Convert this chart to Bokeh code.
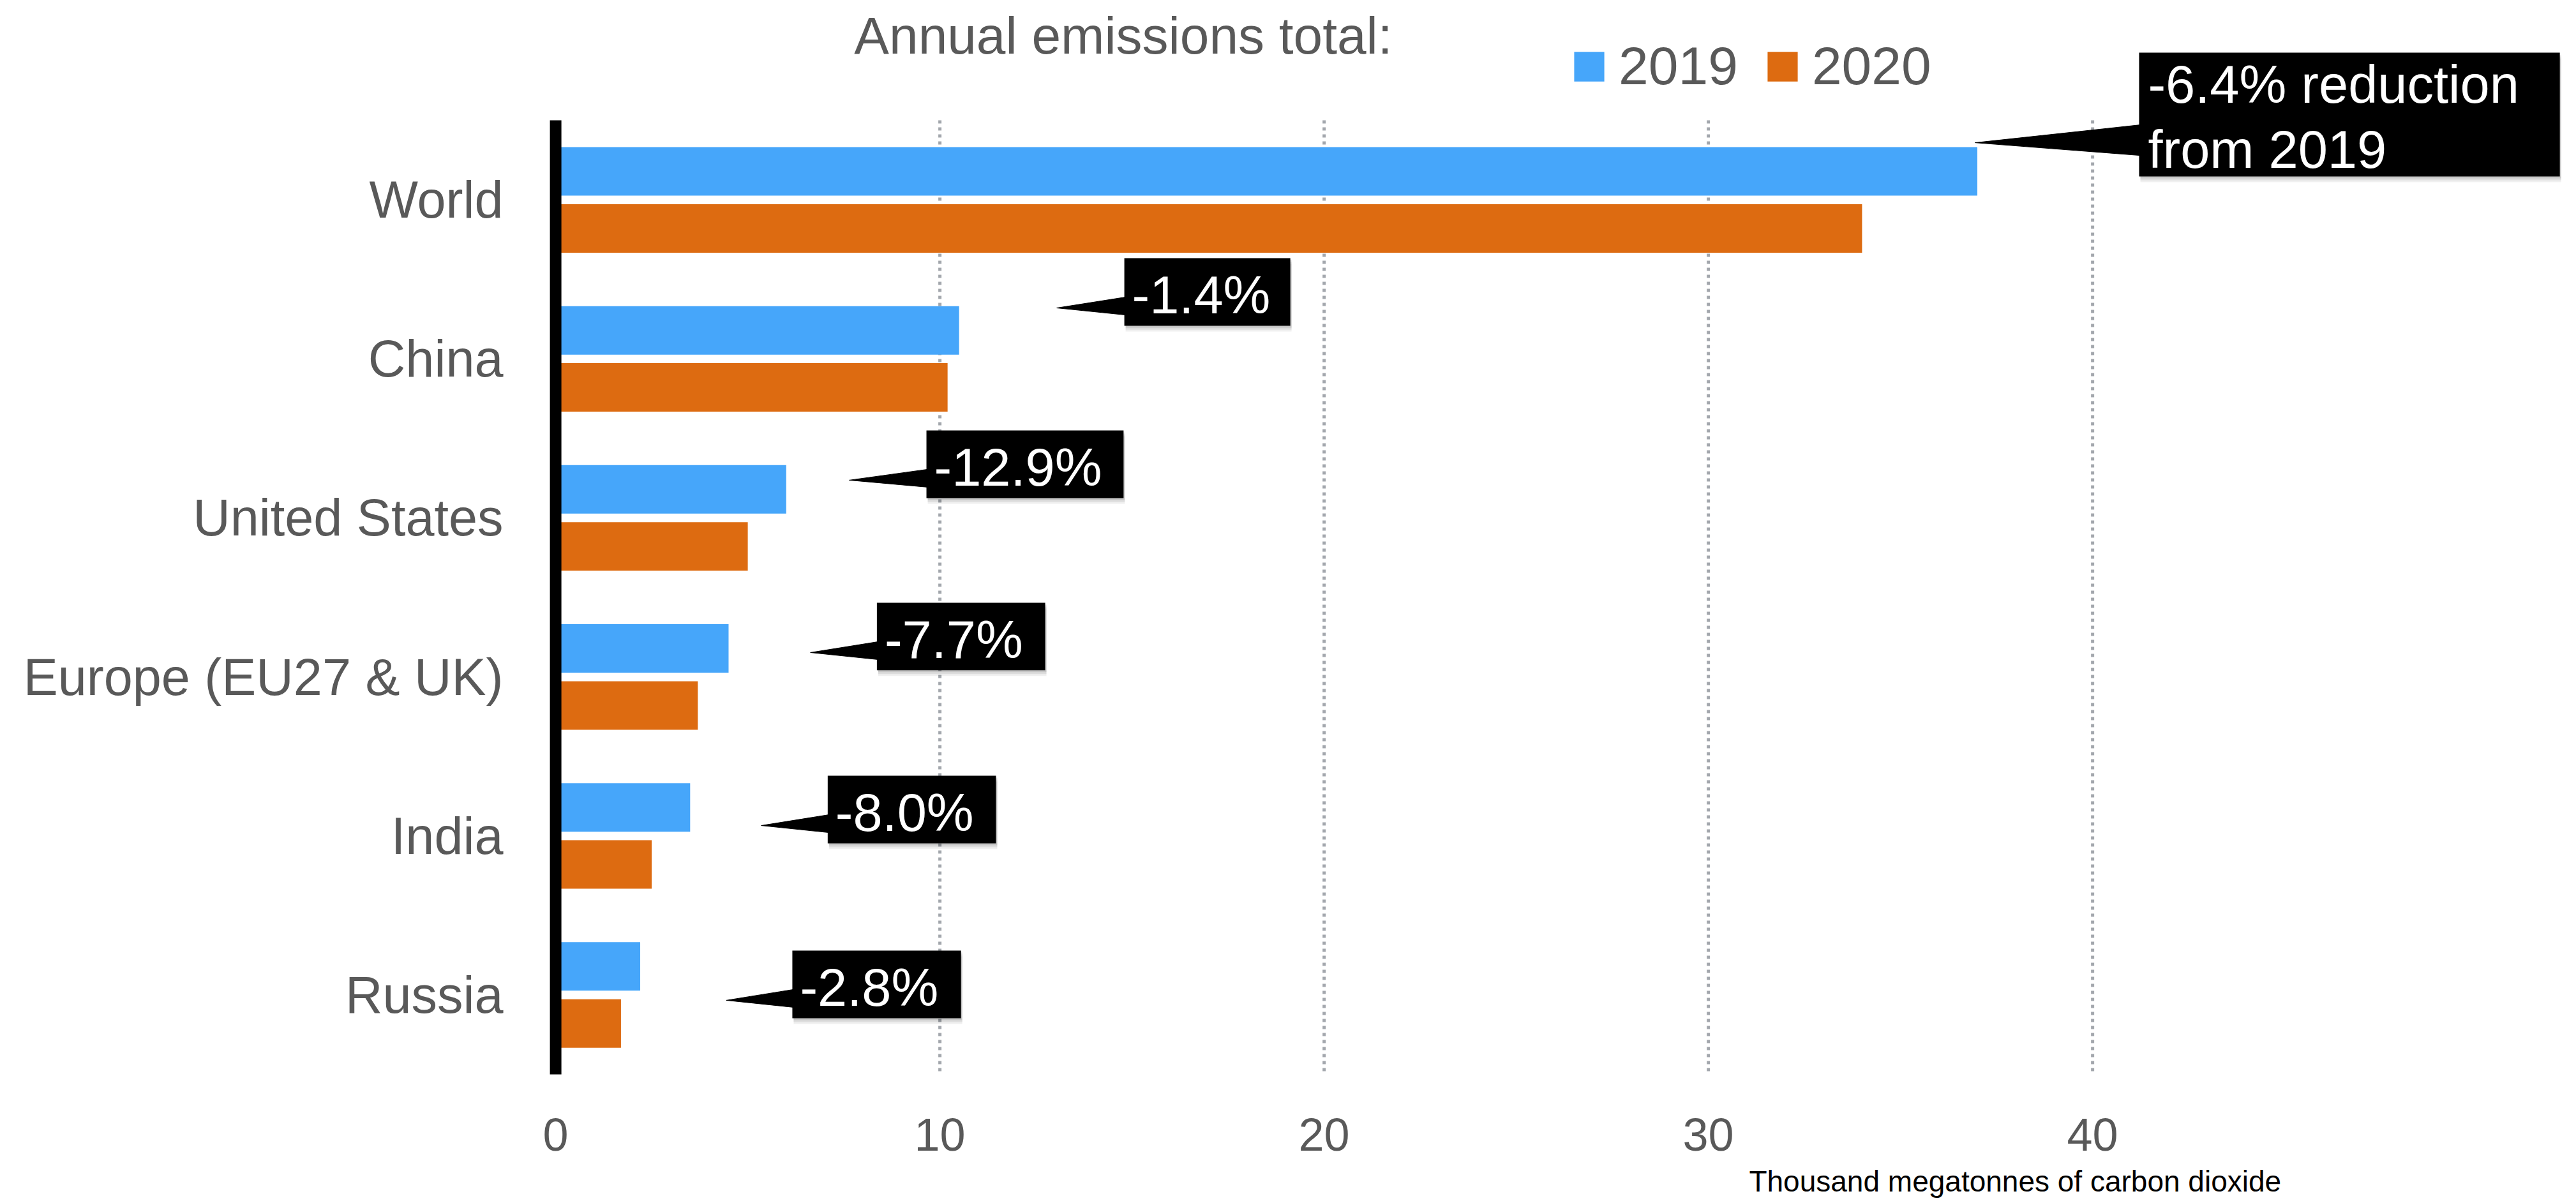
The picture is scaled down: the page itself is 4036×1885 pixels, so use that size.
from bokeh.plotting import figure
from bokeh.models import Range1d, FixedTicker, Label, Legend, LegendItem, ColumnDataSource
from bokeh.embed import file_html
from bokeh.resources import INLINE

# ---- data ----
categories = ["World", "China", "United States", "Europe (EU27 & UK)", "India", "Russia"]
emissions_2019 = [37.0, 10.5, 6.0, 4.5, 3.5, 2.2]
emissions_2020 = [34.0, 10.2, 5.0, 3.7, 2.5, 1.7]
change_labels = [["-6.4% reduction", "from 2019"], ["-1.4%"], ["-12.9%"], ["-7.7%"], ["-8.0%"], ["-2.8%"]]
x_ticks = [0, 10, 20, 30, 40]
series_names = ["2019", "2020"]

# ---- callout layout (data units) ----
ann_tip_x = [36.94, 13.04, 7.64, 6.63, 5.35, 4.44]
ann_box_x0 = [41.21, 14.80, 9.65, 8.36, 7.08, 6.16]
ann_box_x1 = [52.16, 19.12, 14.78, 12.74, 11.46, 10.55]
ann_box_top = [-0.425, 0.867, 1.950, 3.034, 4.122, 5.221]
ann_box_bot = [0.353, 1.292, 2.376, 3.459, 4.547, 5.647]

BLUE = "#46A6FA"
ORANGE = "#DD6B11"
GRAY = "#595959"
FONT = "Liberation Sans"

PX_X = 1 / 60.2     # data units per pixel (x)
PX_Y = 1 / 249.17   # data units per pixel (y)
BASE_FIX = 0.34     # baseline correction, fraction of font size


def base_y(y, fs):
    return y - BASE_FIX * fs * PX_Y


p = figure(width=4028, height=1877, output_backend="svg", toolbar_location=None,
           x_range=Range1d(-0.5, 52.29), y_range=Range1d(6.7786, -0.7144),
           min_border_left=840, min_border_right=10, min_border_top=10, min_border_bottom=0)
p.outline_line_color = None
p.xgrid.visible = False
p.ygrid.visible = False

n = len(categories)
centers = [i + 0.5 for i in range(n)]

# dotted vertical grid lines
gx = [t for t in x_ticks if t > 0]
p.segment(x0=gx, y0=[0] * len(gx), x1=gx, y1=[n] * len(gx),
          line_color="#a3a7ad", line_width=5, line_dash="5 6")

src = ColumnDataSource(dict(y19=[c - 0.179 for c in centers], y20=[c + 0.18 for c in centers],
                            v19=emissions_2019, v20=emissions_2020))
r19 = p.hbar(y="y19", right="v19", left=0, height=0.305, source=src, fill_color=BLUE, line_color=None)
r20 = p.hbar(y="y20", right="v20", left=0, height=0.305, source=src, fill_color=ORANGE, line_color=None)

# thick black spine
p.segment(x0=[0], y0=[0], x1=[0], y1=[n], line_color="black", line_width=18, line_cap="butt")

# callouts
for i in range(n):
    x0, x1, t, b = ann_box_x0[i], ann_box_x1[i], ann_box_top[i], ann_box_bot[i]
    for k, a in ((3, 0.10), (6, 0.08), (9, 0.06)):
        p.quad(left=[x0 + 2 * PX_X], right=[x1 + 2 * PX_X], top=[t + k * PX_Y], bottom=[b + k * PX_Y],
               fill_color="black", fill_alpha=a, line_color=None)
    if i == 0:
        base0, base1, tipy = t + 113 * PX_Y, t + 161 * PX_Y, t + 141 * PX_Y
    else:
        base0, base1, tipy = t + 61 * PX_Y, t + 89 * PX_Y, t + 78 * PX_Y
    p.patch(x=[ann_tip_x[i], x0 + 2 * PX_X, x0 + 2 * PX_X], y=[tipy, base0, base1],
            fill_color="black", line_color="black", line_width=1)
    p.quad(left=[x0], right=[x1], top=[t], bottom=[b], fill_color="black", line_color=None)
    lines = change_labels[i]
    if len(lines) == 1:
        p.add_layout(Label(x=x0 + 12 * PX_X, y=base_y(t + 86 * PX_Y, 83), text=lines[0],
                           text_color="white", text_font=FONT, text_font_size="83px",
                           text_baseline="alphabetic"))
    else:
        for j, line in enumerate(lines):
            p.add_layout(Label(x=x0 + 14 * PX_X, y=base_y(t + (78 + 102 * j) * PX_Y, 83), text=line,
                               text_color="white", text_font=FONT, text_font_size="83px",
                               text_baseline="alphabetic"))

# title
p.add_layout(Label(x=7.77, y=base_y(-0.421, 82), text="Annual emissions total:", text_color=GRAY,
                   text_font=FONT, text_font_size="82px", text_baseline="alphabetic"))
# caption
p.add_layout(Label(x=31.06, y=base_y(6.735, 46), text="Thousand megatonnes of carbon dioxide",
                   text_color="black", text_font=FONT, text_font_size="46px",
                   text_baseline="alphabetic"))

# legend
legend = Legend(items=[LegendItem(label=series_names[0], renderers=[r19]),
                       LegendItem(label=series_names[1], renderers=[r20])],
                orientation="horizontal", location=(1620, 1725), glyph_width=59, glyph_height=58,
                label_standoff=17, spacing=40, padding=0, margin=0, border_line_color=None,
                background_fill_alpha=0, label_text_font_size="84px", label_text_color=GRAY,
                label_text_font=FONT)
p.add_layout(legend, "center")

# axes
p.yaxis.ticker = FixedTicker(ticks=centers)
p.yaxis.major_label_overrides = {c: name for c, name in zip(centers, categories)}
p.yaxis.axis_line_color = None
p.yaxis.major_tick_line_color = None
p.yaxis.minor_tick_line_color = None
p.yaxis.major_label_standoff = 46
p.yaxis.major_label_text_font = FONT
p.yaxis.major_label_text_font_size = "81px"
p.yaxis.major_label_text_color = GRAY

p.xaxis.ticker = FixedTicker(ticks=x_ticks)
p.xaxis.fixed_location = 6.028
p.xaxis.axis_line_color = None
p.xaxis.major_tick_line_color = None
p.xaxis.minor_tick_line_color = None
p.xaxis.major_label_standoff = 57
p.xaxis.major_label_text_font = FONT
p.xaxis.major_label_text_font_size = "72px"
p.xaxis.major_label_text_color = GRAY

open("out.html", "w").write(file_html(p, INLINE))
